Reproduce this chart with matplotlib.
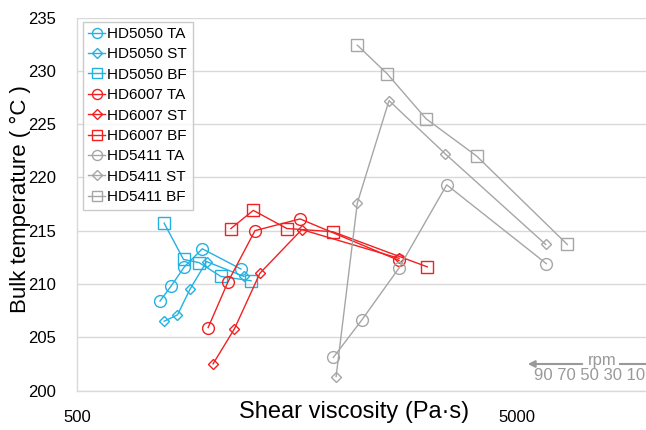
import numpy as np
import matplotlib
matplotlib.use("Agg")
import matplotlib.pyplot as plt

plt.rcParams["font.family"] = ["Liberation Sans", "DejaVu Sans"]

# rpm order: 90, 70, 50, 30, 10 (viscosity increases as rpm decreases)
hd5050_ta_x = [772, 818, 877, 963, 1179]
hd5050_ta_y = [208.4, 209.8, 211.6, 213.3, 211.4]
hd5050_st_x = [789, 846, 903, 985, 1198]
hd5050_st_y = [206.5, 207.1, 209.5, 212.1, 210.7]
hd5050_bf_x = [789, 873, 947, 1062, 1243]
hd5050_bf_y = [215.7, 212.3, 212.0, 210.7, 210.3]

hd6007_ta_x = [993, 1102, 1269, 1607, 2697]
hd6007_ta_y = [205.9, 210.2, 215.0, 216.1, 212.2]
hd6007_st_x = [1019, 1140, 1302, 1621, 2697]
hd6007_st_y = [202.5, 205.8, 211.0, 215.1, 212.4]
hd6007_bf_x = [1119, 1258, 1499, 1906, 3127]
hd6007_bf_y = [215.2, 216.9, 215.2, 214.9, 211.6]

hd5411_ta_x = [1912, 2218, 2697, 3461, 5830]
hd5411_ta_y = [203.1, 206.6, 211.5, 219.3, 211.9]
hd5411_st_x = [1940, 2168, 2559, 3436, 5811]
hd5411_st_y = [201.3, 217.6, 227.2, 222.2, 213.7]
hd5411_bf_x = [2168, 2537, 3106, 4048, 6506]
hd5411_bf_y = [232.4, 229.7, 225.5, 222.0, 213.7]

CYAN = "#22b2e2"
RED = "#f22020"
GREY = "#a6a6a6"

series = [
    ("HD5050 TA", hd5050_ta_x, hd5050_ta_y, CYAN, "o", 8.5),
    ("HD5050 ST", hd5050_st_x, hd5050_st_y, CYAN, "D", 5.5),
    ("HD5050 BF", hd5050_bf_x, hd5050_bf_y, CYAN, "s", 8),
    ("HD6007 TA", hd6007_ta_x, hd6007_ta_y, RED, "o", 8.5),
    ("HD6007 ST", hd6007_st_x, hd6007_st_y, RED, "D", 5.5),
    ("HD6007 BF", hd6007_bf_x, hd6007_bf_y, RED, "s", 8),
    ("HD5411 TA", hd5411_ta_x, hd5411_ta_y, GREY, "o", 8.5),
    ("HD5411 ST", hd5411_st_x, hd5411_st_y, GREY, "D", 5.5),
    ("HD5411 BF", hd5411_bf_x, hd5411_bf_y, GREY, "s", 8),
]

W, H = 646, 430
fig = plt.figure(figsize=(W / 100, H / 100), dpi=100)
ax = fig.add_axes([77 / W, 1 - 390.5 / H, (W - 77) / W, (390.5 - 17.5) / H])

for name, xs, ys, c, m, ms in series:
    ax.plot(xs, ys, color=c, marker=m, markersize=ms, markerfacecolor="none",
            markeredgecolor=c, markeredgewidth=1.0, linewidth=1.0, label=name)

ax.set_xscale("log")
ax.set_xlim(500, 9820)
ax.set_ylim(200, 235)
ax.set_xticks([500, 5000])
ax.set_xticklabels(["500", "5000"])
ax.minorticks_off()
ax.set_yticks(np.arange(200, 236, 5))
ax.tick_params(axis="both", length=0, labelsize=12, colors="black")
ax.tick_params(axis="y", pad=15)
ax.tick_params(axis="x", pad=14)
ax.grid(axis="y", color="#d9d9d9", linewidth=1.0)
ax.set_axisbelow(True)
for s in ["top", "right"]:
    ax.spines[s].set_visible(False)
for s in ["left", "bottom"]:
    ax.spines[s].set_color("#d9d9d9")
    ax.spines[s].set_linewidth(1.0)

leg = ax.legend(loc="upper left", bbox_to_anchor=(6 / 569, 1 - 4 / 373),
                fontsize=11, frameon=True, fancybox=False, edgecolor="#bfbfbf",
                handlelength=1.1, handletextpad=0.15, labelspacing=0.42,
                borderpad=0.35, borderaxespad=0.0, markerscale=0.85)
leg.get_frame().set_linewidth(1.0)

fig.text(354 / W, 1 - 412 / H, "Shear viscosity (Pa·s)", fontsize=17,
         ha="center", va="center")
fig.text(20 / W, 1 - 199 / H, "Bulk temperature ( °C )", fontsize=16,
         ha="center", va="center", rotation=90)

# rpm direction annotation
ax.annotate("", xy=(525 / W, 1 - 364 / H), xytext=(585 / W, 1 - 364 / H),
            xycoords="figure fraction", textcoords="figure fraction",
            arrowprops=dict(arrowstyle="-|>", color="#999999", lw=1.5,
                            mutation_scale=10))
fig.add_artist(plt.Line2D([620 / W, 1.0], [1 - 364 / H, 1 - 364 / H],
                          color="#999999", lw=1.5))
fig.text(602 / W, 1 - 361 / H, "rpm", fontsize=12, color="#999999",
         ha="center", va="center")
fig.text(645 / W, 1 - 376 / H, "90 70 50 30 10", fontsize=12,
         color="#999999", ha="right", va="center")

fig.savefig("out.png", dpi=100)
